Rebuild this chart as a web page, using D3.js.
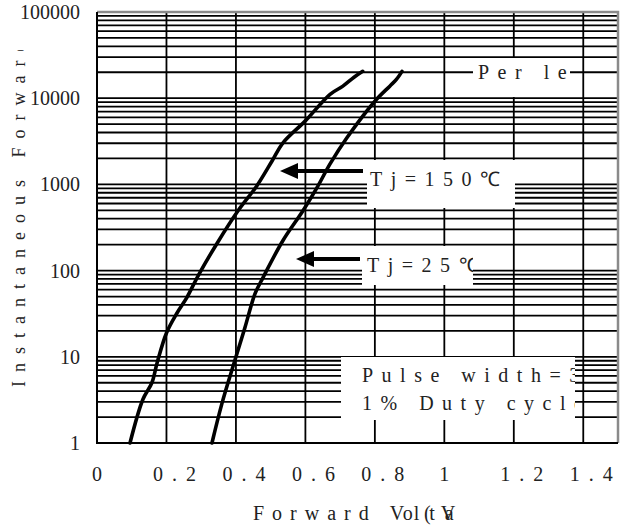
<!DOCTYPE html>
<html>
<head>
<meta charset="utf-8">
<script src="https://cdn.jsdelivr.net/npm/d3@7"></script>
<style>
  body { margin: 0; background: #fff; }
</style>
</head>
<body>
<script>
// Chart data
var xTicks = [0, 0.2, 0.4, 0.6, 0.8, 1, 1.2, 1.4];
var yTicks = [1, 10, 100, 1000, 10000, 100000];

// Tj = 150 C curve (forward voltage V, forward current A)
var vf150 = [0.095, 0.132, 0.158, 0.173, 0.2, 0.23, 0.259, 0.293, 0.345, 0.406, 0.46, 0.504, 0.535, 0.599, 0.671, 0.708, 0.74, 0.765];
var if150 = [1, 3.2, 5.0, 8.5, 18.9, 32, 49, 90, 205, 494, 961, 1870, 3020, 5420, 11100, 13800, 17500, 20500];

// Tj = 25 C curve
var vf25 = [0.331, 0.36, 0.397, 0.426, 0.455, 0.478, 0.535, 0.593, 0.633, 0.671, 0.719, 0.8, 0.843, 0.862, 0.878];
var if25 = [1, 2.9, 9.1, 21.9, 54, 83, 222, 494, 910, 1730, 3450, 9230, 13800, 16500, 20500];

// Define SVG area dimensions
var svgWidth = 627;
var svgHeight = 529;

var margin = { top: 12, right: 9, bottom: 86, left: 97 };
var chartWidth = svgWidth - margin.left - margin.right;
var chartHeight = svgHeight - margin.top - margin.bottom;

var FONT = '"Liberation Serif"';
var INK = "#222";

var svg = d3.select("body")
  .append("svg")
  .attr("width", svgWidth)
  .attr("height", svgHeight);

var chartGroup = svg.append("g")
  .attr("transform", `translate(${margin.left}, ${margin.top})`);

// scales
var xScale = d3.scaleLinear()
  .domain([0, 1.5])
  .range([0, chartWidth]);

var yScale = d3.scaleLog()
  .domain([1, 100000])
  .range([chartHeight, 0]);

// horizontal log grid (1..9 in every decade)
var gridValues = [];
yTicks.slice(0, -1).forEach(function(d) {
  for (var k = 1; k < 10; k++) gridValues.push(k * d);
});

chartGroup.selectAll(".hgrid")
  .data(gridValues)
  .enter()
  .append("line")
  .attr("x1", 0)
  .attr("x2", chartWidth)
  .attr("y1", d => yScale(d))
  .attr("y2", d => yScale(d))
  .attr("stroke", "#000")
  .attr("stroke-width", 1.8);

chartGroup.selectAll(".vgrid")
  .data(xTicks)
  .enter()
  .append("line")
  .attr("x1", d => xScale(d))
  .attr("x2", d => xScale(d))
  .attr("y1", 0)
  .attr("y2", chartHeight)
  .attr("stroke", "#000")
  .attr("stroke-width", 1.8);

// grey frame on top and right
chartGroup.append("path")
  .attr("d", `M0,0H${chartWidth}V${chartHeight}`)
  .attr("fill", "none")
  .attr("stroke", "#8a8a8a")
  .attr("stroke-width", 2.5);

// black axis lines on left and bottom
chartGroup.append("path")
  .attr("d", `M0,0V${chartHeight}H${chartWidth}`)
  .attr("fill", "none")
  .attr("stroke", "#000")
  .attr("stroke-width", 2);

// Create axis functions
var leftAxis = d3.axisLeft(yScale)
  .tickValues(yTicks)
  .tickSize(0)
  .tickPadding(17)
  .tickFormat(d3.format("d"));

var bottomAxis = d3.axisBottom(xScale)
  .tickValues(xTicks)
  .tickSize(0)
  .tickPadding(24)
  .tickFormat(d => String(d));

var yAxisG = chartGroup.append("g").call(leftAxis);
yAxisG.select(".domain").remove();
yAxisG.selectAll("text")
  .style("font-family", FONT)
  .style("font-size", "20px")
  .attr("fill", INK);

var xAxisG = chartGroup.append("g")
  .attr("transform", `translate(0, ${chartHeight})`)
  .call(bottomAxis);
xAxisG.select(".domain").remove();
xAxisG.selectAll("text")
  .style("font-family", FONT)
  .style("font-size", "20px")
  .style("letter-spacing", "9px")
  .attr("fill", INK)
  .attr("dx", d => String(d).length > 1 ? 12 : 4);

// label boxes (white patches over the grid), text clipped to the box
var boxes = [
  { x: 473, y: 58, w: 97, h: 39, lines: ["Per leg"], tx: 478, ty: [79] },
  { x: 367, y: 160, w: 148, h: 48, lines: ["Tj=150\u2103"], tx: 370, ty: [186] },
  { x: 362, y: 246, w: 111, h: 39, lines: ["Tj=25\u2103"], tx: 367, ty: [272] },
  { x: 341, y: 357, w: 234, h: 63, lines: ["Pulse width=300us", "1% Duty cycle"], tx: 362, ty: [382, 410] }
];

var defs = svg.append("defs");
boxes.forEach(function(b, i) {
  defs.append("clipPath").attr("id", "box" + i)
    .append("rect")
    .attr("x", b.x).attr("y", b.y).attr("width", b.w).attr("height", b.h);
  svg.append("rect")
    .attr("x", b.x).attr("y", b.y).attr("width", b.w).attr("height", b.h)
    .attr("fill", "#fff");
  var g = svg.append("g").attr("clip-path", `url(#box${i})`);
  b.lines.forEach(function(t, j) {
    g.append("text")
      .attr("x", b.tx)
      .attr("y", b.ty[j])
      .attr("fill", INK)
      .style("font-family", FONT)
      .style("font-size", "20px")
      .style("letter-spacing", "8.5px")
      .text(t);
  });
});

// curves
var line = d3.line()
  .x(d => xScale(d[0]))
  .y(d => yScale(d[1]))
  .curve(d3.curveCatmullRom);

[[vf150, if150], [vf25, if25]].forEach(function(s) {
  chartGroup.append("path")
    .datum(s[0].map((v, i) => [v, s[1][i]]))
    .attr("d", line)
    .attr("fill", "none")
    .attr("stroke", "#000")
    .attr("stroke-width", 3.6)
    .attr("stroke-linecap", "round");
});

// arrows from the labels to the curves
var arrows = [
  { x1: 363, x2: 280, y: 171 },
  { x1: 360, x2: 296, y: 259 }
];
arrows.forEach(function(a) {
  svg.append("line")
    .attr("x1", a.x1).attr("x2", a.x2 + 14)
    .attr("y1", a.y).attr("y2", a.y)
    .attr("stroke", "#000")
    .attr("stroke-width", 4);
  svg.append("path")
    .attr("d", `M${a.x2},${a.y}L${a.x2 + 18},${a.y - 8}L${a.x2 + 18},${a.y + 8}Z`)
    .attr("fill", "#000");
});

// Append axes titles
defs.append("clipPath").attr("id", "yclip")
  .append("rect").attr("x", 0).attr("y", 50).attr("width", 40).attr("height", 400);
svg.append("g").attr("clip-path", "url(#yclip)")
  .append("text")
  .attr("transform", "translate(25, 387) rotate(-90)")
  .attr("fill", INK)
  .style("font-family", FONT)
  .style("font-size", "18px")
  .style("letter-spacing", "9px")
  .text("Instantaneous Forward Current (A)");

// x title: the reference shows the two text runs overprinted and cut off
defs.append("clipPath").attr("id", "xclip")
  .append("rect").attr("x", 200).attr("y", 490).attr("width", 260).attr("height", 39);
var xTitle = svg.append("g").attr("clip-path", "url(#xclip)");
var t1 = xTitle.append("text")
  .attr("x", 253)
  .attr("y", 520)
  .attr("fill", INK)
  .style("font-family", FONT)
  .style("font-size", "20px");
t1.append("tspan").style("letter-spacing", "8px").text("Forward ");
t1.append("tspan").style("letter-spacing", "1px").text("Vo");
t1.append("tspan").style("letter-spacing", "10px").text("ltage");
xTitle.append("text")
  .attr("x", 424)
  .attr("y", 520)
  .attr("fill", INK)
  .style("font-family", FONT)
  .style("font-size", "20px")
  .style("letter-spacing", "10px")
  .text("(V)");
</script>
</body>
</html>
